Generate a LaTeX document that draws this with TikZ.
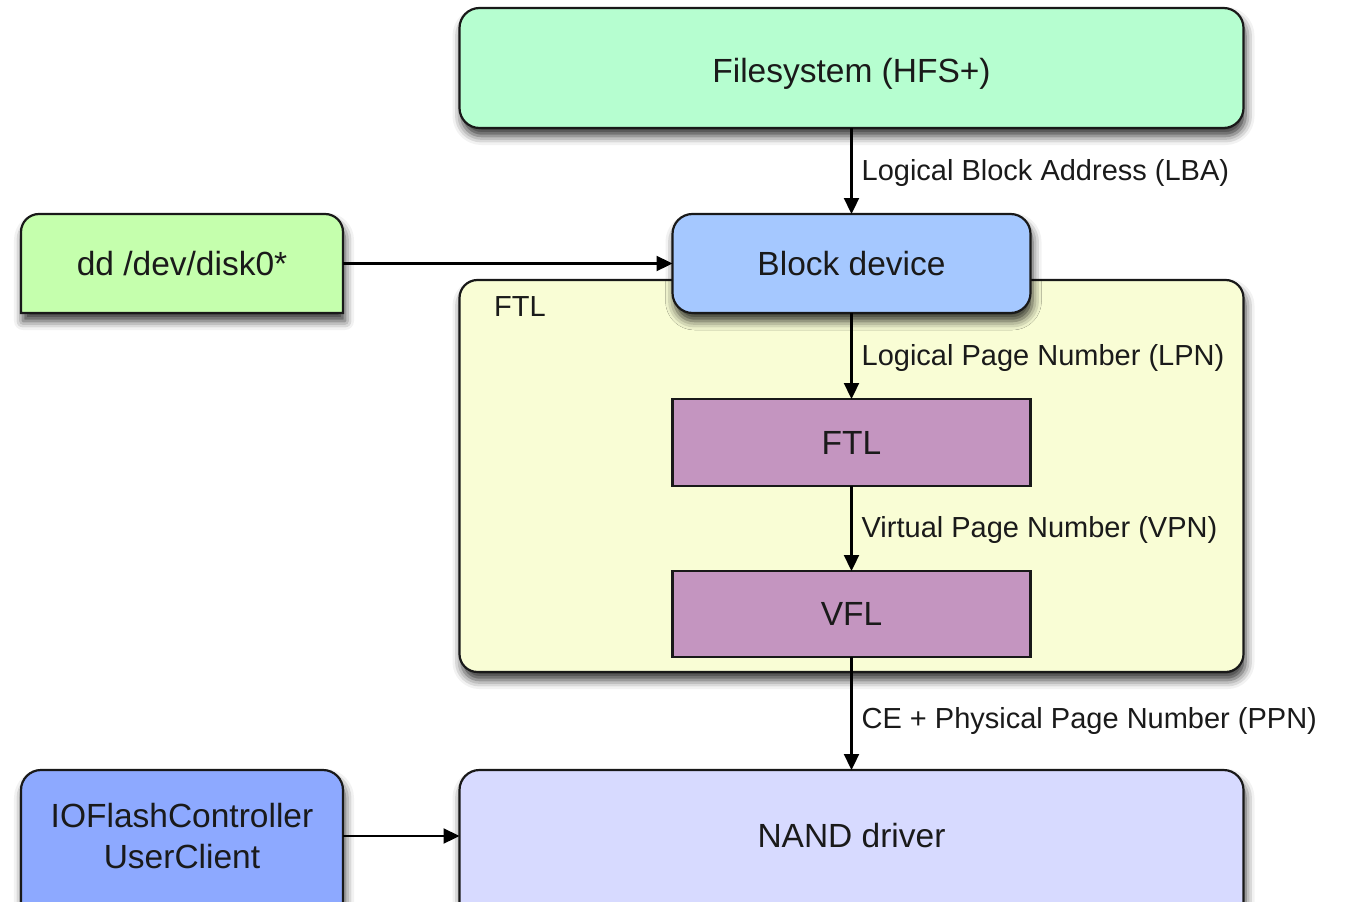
\documentclass[tikz,border=0pt]{standalone}
\usepackage{fontspec}
\setmainfont{Liberation Sans}
\usetikzlibrary{arrows.meta,shadows.blur}
\definecolor{fsc}{HTML}{B6FED0}
\definecolor{ddc}{HTML}{C5FFAD}
\definecolor{bdc}{HTML}{A5C8FF}
\definecolor{ftlcc}{HTML}{F9FDD5}
\definecolor{layc}{HTML}{C495C0}
\definecolor{nandc}{HTML}{D7DAFF}
\definecolor{ioc}{HTML}{8DA9FF}
\definecolor{txt}{HTML}{1A1A1A}
\pgfdeclarelayer{bg}
\pgfsetlayers{bg,main}
\begin{document}
\begin{tikzpicture}[x=1pt,y=-1pt,
  box/.style={draw=black!90, line width=2.2pt, inner sep=0pt, outer sep=0pt,
    text=txt, align=center, font=\fontsize{33.5}{41}\selectfont},
  rbox/.style={box, rounded corners=20pt},
  shad/.style={blur shadow={shadow xshift=2pt, shadow yshift=-8pt,
    shadow blur radius=9pt, shadow opacity=80}},
  outline/.style={draw=black!90, line width=2.2pt, shad},
  lab/.style={text=txt, font=\fontsize{29}{34}\selectfont, inner sep=0pt},
  arr/.style={draw=black, line width=2.3pt, -{Triangle[length=16pt,width=15pt]}}]
\useasboundingbox (0,0) rectangle (1345,902);
\clip (0,0) rectangle (1345,902);

% Filesystem
\node[rbox, shad, fill=fsc, minimum width=784pt, minimum height=120pt,
  text height=36pt, text depth=7pt] (fs) at (851.5,68) {Filesystem (HFS+)};

% FTL container
\node[rbox, shad, fill=ftlcc, rounded corners=18pt, minimum width=784pt, minimum height=392pt] (ftlc) at (851.5,476) {};
\node[lab, anchor=west] (ftlclab) at (494,307) {FTL};

% Block device
\node[rbox, shad, fill=bdc, minimum width=358pt, minimum height=99pt] (bd) at (851.5,263.5) {Block device};

% dd
\node[box, draw=none, minimum width=322pt, minimum height=99pt] (dd) at (182,263.5) {dd /dev/disk0*};
\begin{pgfonlayer}{bg}
\path[outline, fill=ddc] (dd.south west) -- ([yshift=-18pt]dd.north west)
  arc[start angle=180,end angle=90,radius=18pt] -- ([xshift=-18pt]dd.north east)
  arc[start angle=90,end angle=0,radius=18pt] -- (dd.south east) -- cycle;
\end{pgfonlayer}

% FTL and VFL layers
\node[box, fill=layc, minimum width=358pt, minimum height=87pt] (ftl) at (851.5,442.5) {FTL};
\node[box, fill=layc, minimum width=358pt, minimum height=86pt] (vfl) at (851.5,614) {VFL};

% NAND driver
\node[box, draw=none, minimum width=784pt, minimum height=132pt] (nand) at (851.5,836) {NAND driver};
% IOFlashController
\node[box, draw=none, minimum width=322pt, minimum height=132pt] (io) at (182,836) {IOFlashController\\UserClient};
\begin{pgfonlayer}{bg}
\path[outline, fill=nandc] ([yshift=-20pt]nand.south west) -- ([yshift=-20pt]nand.north west)
  arc[start angle=180,end angle=90,radius=20pt] -- ([xshift=-20pt]nand.north east)
  arc[start angle=90,end angle=0,radius=20pt] -- ([yshift=-20pt]nand.south east) -- cycle;
\path[outline, fill=ioc] ([yshift=-20pt]io.south west) -- ([yshift=-20pt]io.north west)
  arc[start angle=180,end angle=90,radius=20pt] -- ([xshift=-20pt]io.north east)
  arc[start angle=90,end angle=0,radius=20pt] -- ([yshift=-20pt]io.south east) -- cycle;
\end{pgfonlayer}

% connectors
\draw[arr] (fs.south) -- node[lab, midway, anchor=west, xshift=9pt, yshift=-2pt] (l1) {Logical Block Address (LBA)} (bd.north);
\draw[arr] (dd.east) -- (bd.west);
\draw[arr] (bd.south) -- node[lab, midway, anchor=west, xshift=9pt, yshift=-2pt] (l2) {Logical Page Number (LPN)} (ftl.north);
\draw[arr] (ftl.south) -- node[lab, midway, anchor=west, xshift=9pt, yshift=-1pt] (l3) {Virtual Page Number (VPN)} (vfl.north);
\draw[arr] (vfl.south) -- node[lab, pos=0.55, anchor=west, xshift=9pt, yshift=-2pt] (l4) {CE + Physical Page Number (PPN)} (nand.north);
\draw[arr] (io.east) -- (nand.west);
\end{tikzpicture}
\end{document}
